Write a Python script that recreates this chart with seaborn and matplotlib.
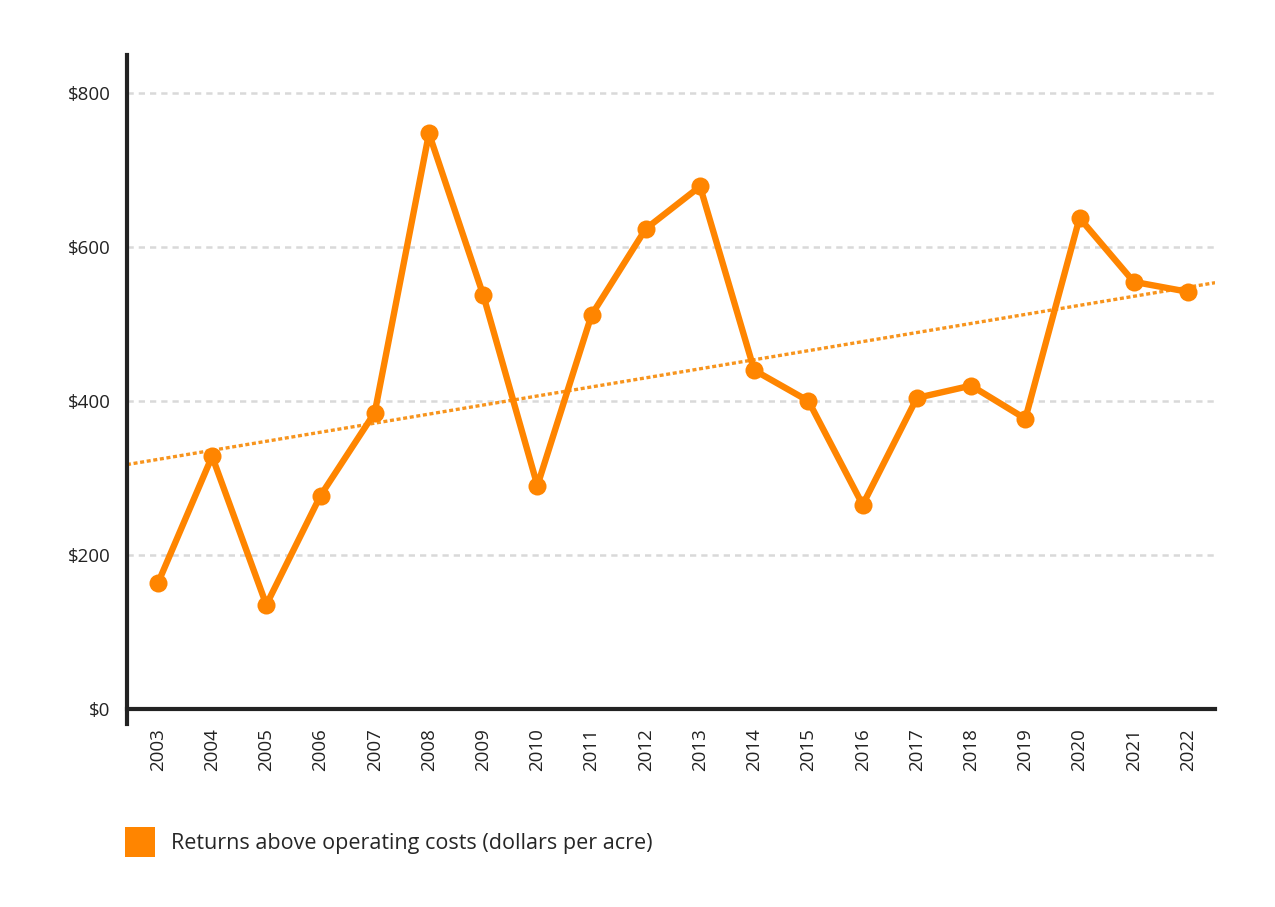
import numpy as np
import pandas as pd
import matplotlib.pyplot as plt
import seaborn as sns
from matplotlib.patches import Patch

years = list(range(2003, 2023))
returns = [163, 328, 135, 277, 385, 748, 538, 290, 512, 624,
           679, 440, 400, 265, 404, 420, 377, 638, 555, 542]
yticks = [0, 200, 400, 600, 800]
ytick_labels = ["$0", "$200", "$400", "$600", "$800"]
series_name = "Returns above operating costs (dollars per acre)"

orange = "#FF8500"
trend_orange = "#F7941D"

sns.set_theme(style="white")
plt.rcParams['font.family'] = ['Open Sans', 'DejaVu Sans']

df = pd.DataFrame({"year": years, "value": returns})

fig = plt.figure(figsize=(12.75, 9.07), dpi=100)
ax = fig.add_axes([0.0996, 0.2018, 0.8534, 0.7376])

# trend line (least squares over the data), drawn across the full axis width
xlo, xhi = 2002.43, 2022.5
k, b = np.polyfit(df["year"], df["value"], 1)
xs = np.array([xlo, xhi])
ax.plot(xs, k * xs + b, color=trend_orange, lw=2.4, ls=(0, (1.2, 0.8)), zorder=2)

sns.lineplot(data=df, x="year", y="value", ax=ax, color=orange, lw=4.6,
             marker="o", markersize=13, markeredgewidth=0, zorder=3)

for y in yticks[1:]:
    ax.axhline(y, color="#d9d9d9", lw=1.8, ls=(0, (2.5, 2)), zorder=1)

# spines first: moving a spine resets the tick label settings
for s in ["top", "right"]:
    ax.spines[s].set_visible(False)
ax.spines["bottom"].set_position(("data", 0))
ax.spines["left"].set_linewidth(3)
ax.spines["bottom"].set_linewidth(3)
ax.spines["left"].set_color("#222222")
ax.spines["bottom"].set_color("#222222")

ax.set_xlim(xlo, xhi)
ax.set_ylim(-20, 850)
ax.set_xticks(years)
ax.set_xticklabels([str(y) for y in years])
ax.set_yticks(yticks)
ax.set_yticklabels(ytick_labels)
ax.tick_params(axis="both", length=0, labelsize=13.5, labelcolor="#222222")
ax.tick_params(axis="x", labelrotation=90, pad=14)
ax.tick_params(axis="y", pad=12)
ax.set_xlabel("")
ax.set_ylabel("")

handle = Patch(facecolor=orange, edgecolor="none")
fig.legend([handle], [series_name], loc="lower left", bbox_to_anchor=(0.083, 0.034),
           frameon=False, fontsize=15.5, handlelength=1.4, handleheight=1.75,
           handletextpad=0.75)

plt.savefig("out.png", dpi=100)
